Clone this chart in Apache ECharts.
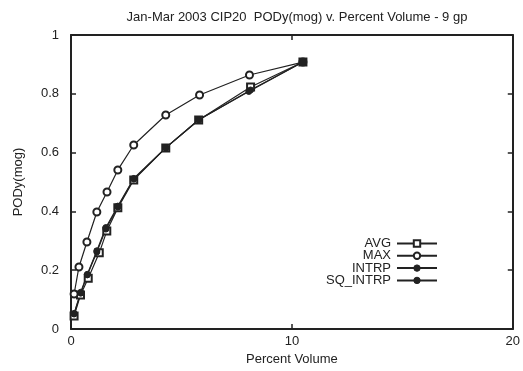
<!DOCTYPE html>
<html>
<head>
<meta charset="utf-8">
<script src="https://cdn.jsdelivr.net/npm/echarts@6/dist/echarts.min.js"></script>
<style>
  html, body { margin: 0; padding: 0; background: #fff; }
  #chart { width: 523px; height: 371px; }
</style>
</head>
<body>
<div id="chart"></div>
<script>
// Percent volume (x) and PODy(mog) (y) for each method
var avgX   = [0.14, 0.43, 0.78, 1.28, 1.62, 2.12, 2.84, 4.29, 5.78, 8.13, 10.5];
var avgY   = [0.044, 0.116, 0.173, 0.259, 0.333, 0.412, 0.507, 0.616, 0.711, 0.823, 0.908];
var maxX   = [0.14, 0.36, 0.72, 1.17, 1.63, 2.12, 2.84, 4.29, 5.82, 8.08, 10.5];
var maxY   = [0.119, 0.211, 0.296, 0.398, 0.466, 0.541, 0.626, 0.728, 0.796, 0.864, 0.908];
var intrpX = [0.14, 0.44, 0.74, 1.17, 1.58, 2.12, 2.84, 4.29, 5.78, 8.13, 10.5];
var intrpY = [0.051, 0.122, 0.184, 0.262, 0.340, 0.415, 0.510, 0.616, 0.711, 0.813, 0.908];
var sqX    = [0.14, 0.44, 0.74, 1.17, 1.58, 2.12, 2.84, 4.29, 5.78, 8.05, 10.5];
var sqY    = [0.053, 0.125, 0.186, 0.266, 0.345, 0.418, 0.512, 0.617, 0.712, 0.808, 0.908];

var names = ['AVG', 'MAX', 'INTRP', 'SQ_INTRP'];

function pairs(xs, ys) {
  return xs.map(function (x, i) { return [x, ys[i]]; });
}

var ink = '#222';
var font = 'Liberation Sans, Arial, sans-serif';

function mkSeries(name, xs, ys, symbol, size) {
  return {
    name: name,
    type: 'line',
    data: pairs(xs, ys),
    symbol: symbol,
    symbolSize: size,
    showAllSymbol: true,
    lineStyle: { color: ink, width: 1.2 },
    itemStyle: { color: ink, borderColor: ink, borderWidth: 1 },
    emphasis: { disabled: true },
    animation: false
  };
}

var chart = echarts.init(document.getElementById('chart'));

var frameAxis = {
  axisLine: { show: true, onZero: false, lineStyle: { color: ink, width: 2 } },
  axisTick: { show: true, inside: true, length: 5, lineStyle: { color: ink, width: 1.5 } },
  splitLine: { show: false }
};

chart.setOption({
  backgroundColor: '#fff',
  textStyle: { fontFamily: font },
  title: {
    text: 'Jan-Mar 2003 CIP20  PODy(mog) v. Percent Volume - 9 gp',
    left: 292, top: 6, textAlign: 'center',
    textStyle: { fontFamily: font, fontSize: 13, fontWeight: 'normal', color: ink }
  },
  legend: {
    data: names,
    orient: 'vertical',
    right: 80, top: 232,
    align: 'right',
    itemWidth: 40, itemHeight: 8,
    itemGap: -0.7,
    itemStyle: { borderWidth: 1 },
    textStyle: { fontFamily: font, fontSize: 13, lineHeight: 12, color: ink, padding: [0, 1, 0, 0] }
  },
  grid: { left: 71, right: 9, top: 35, bottom: 42 },
  xAxis: [
    Object.assign({
      type: 'value', min: 0, max: 20, interval: 10, position: 'bottom',
      name: 'Percent Volume', nameLocation: 'middle', nameGap: 24,
      nameTextStyle: { fontFamily: font, fontSize: 13, color: ink },
      axisLabel: { color: ink, fontSize: 13, fontFamily: font, margin: 6 }
    }, frameAxis),
    Object.assign({
      type: 'value', min: 0, max: 20, interval: 10, position: 'top',
      axisLabel: { show: false }
    }, frameAxis)
  ],
  yAxis: [
    Object.assign({
      type: 'value', min: 0, max: 1, interval: 0.2, position: 'left',
      name: 'PODy(mog)', nameLocation: 'middle', nameGap: 46,
      nameTextStyle: { fontFamily: font, fontSize: 13, color: ink },
      axisLabel: { color: ink, fontSize: 13, fontFamily: font, margin: 12 }
    }, frameAxis),
    Object.assign({
      type: 'value', min: 0, max: 1, interval: 0.2, position: 'right',
      axisLabel: { show: false }
    }, frameAxis)
  ],
  series: [
    mkSeries('AVG', avgX, avgY, 'emptyRect', 7),
    mkSeries('MAX', maxX, maxY, 'emptyCircle', 7),
    mkSeries('INTRP', intrpX, intrpY, 'circle', 6),
    mkSeries('SQ_INTRP', sqX, sqY, 'circle', 6)
  ]
});
</script>
</body>
</html>
